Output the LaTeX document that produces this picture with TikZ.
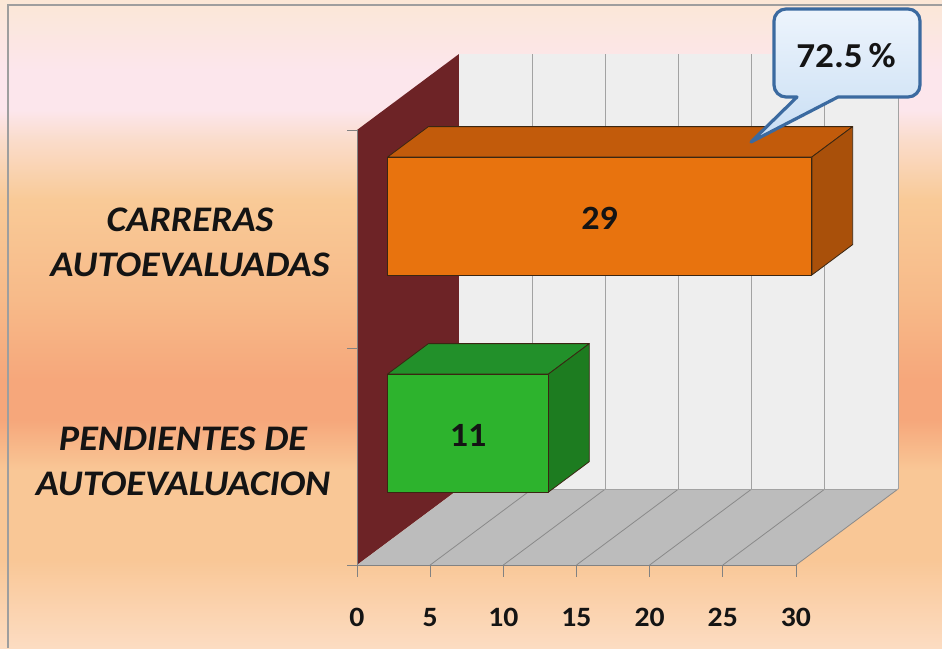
\documentclass[tikz,border=0pt]{standalone}
\usepackage{fontspec}
\setmainfont{Carlito}
\newfontfamily\chartfont[FakeStretch=1.06]{Carlito}
\usetikzlibrary{positioning}

\definecolor{bgtop}{HTML}{FBE7D6}
\definecolor{bgpink}{HTML}{FCE6EC}
\definecolor{bgrose}{HTML}{FADCCB}
\definecolor{bgorange}{HTML}{F9CA97}
\definecolor{bgdeep}{HTML}{F7BA89}
\definecolor{bgsalmon}{HTML}{F6A77B}
\definecolor{bgpeach}{HTML}{F9C796}
\definecolor{bgbot}{HTML}{FCDCC2}
\definecolor{framegray}{HTML}{9E9E9E}
\definecolor{wallmaroon}{HTML}{6D2326}
\definecolor{backwall}{HTML}{EEEEEE}
\definecolor{floorgray}{HTML}{BCBCBC}
\definecolor{gridgray}{HTML}{A2A2A2}
\definecolor{orF}{HTML}{E8730E}
\definecolor{orT}{HTML}{C25B0B}
\definecolor{orS}{HTML}{A9500A}
\definecolor{grF}{HTML}{2DB32D}
\definecolor{grT}{HTML}{22902A}
\definecolor{grS}{HTML}{1D7C20}
\definecolor{baredge}{HTML}{3A2612}
\definecolor{callblue}{HTML}{3B6AA0}
\definecolor{calltop}{HTML}{EDF4FC}
\definecolor{callbot}{HTML}{C8DEF4}

\pgfdeclareverticalshading{bgshade}{100bp}{color(0bp)=(bgbot); color(25bp)=(bgbot);
  color(31.8bp)=(bgpeach); color(38.7bp)=(bgpeach); color(42.6bp)=(bgsalmon);
  color(45.7bp)=(bgsalmon); color(51.9bp)=(bgdeep); color(59.6bp)=(bgorange);
  color(64.2bp)=(bgrose); color(66.5bp)=(bgpink); color(69.6bp)=(bgpink);
  color(75bp)=(bgtop); color(100bp)=(bgtop)}

\begin{document}
\begin{tikzpicture}[x=1pt, y=-1pt,
  every node/.style={inner sep=0pt, text=black!92},
  catlabel/.style={font=\chartfont\fontsize{36}{45}\selectfont\bfseries\itshape, align=center},
  ticklabel/.style={font=\chartfont\fontsize{28}{28}\selectfont\bfseries, anchor=base},
  vallabel/.style={font=\chartfont\fontsize{34}{34}\selectfont\bfseries},
  barline/.style={draw=baredge, line width=0.8pt, line join=round},
  gridline/.style={draw=gridgray, line width=0.8pt},
  axisline/.style={draw=gridgray!80!black, line width=0.8pt},
  callbox/.style={draw=callblue, line width=3.2pt, line join=round, top color=calltop, bottom color=callbot}]

\useasboundingbox (0,0) rectangle (942,648);
\shade[shading=bgshade] (0,0) rectangle (942,648);
\draw[framegray, line width=1.5pt] (8,648) -- (8,5) -- (942,5);

% walls and floor
\fill[wallmaroon] (357,565) -- (357,130) -- (459,54) -- (459,489) -- cycle;
\fill[backwall] (459,54) rectangle (898,489);
\fill[floorgray] (357,565) -- (796,565) -- (898,489) -- (459,489) -- cycle;
\foreach \k in {1,...,6} {
  \draw[gridline] ({459+73.17*\k},54) -- ({459+73.17*\k},489);
  \draw[gridline, draw=gridgray!85!black] ({357+73.17*\k},565) -- ++(102,-76);
}
\draw[gridline] (459,489) -- (898,489);

% axes
\draw[axisline] (357,130) -- (357,565) -- (796,565);
\foreach \y in {130,348,565}
  \draw[axisline] (347,\y) -- (357,\y);
\foreach \v in {0,5,...,30} {
  \draw[axisline] ({357+14.63*\v},565) -- ++(0,12);
  \node[ticklabel] (t\v) at ({357+14.63*\v},626) {\v};
}

% bars
\foreach \val/\ytop/\cf/\ct/\cs in {29/157/orF/orT/orS, 11/374/grF/grT/grS} {
  \pgfmathsetmacro{\len}{14.63*\val}
  \filldraw[barline, fill=\ct] (387.6,\ytop) -- ++(40.8,-30.4) -- ++(\len,0) -- ++(-40.8,30.4) -- cycle;
  \filldraw[barline, fill=\cs] ({387.6+\len},\ytop) -- ++(40.8,-30.4) -- ++(0,118) -- ++(-40.8,30.4) -- cycle;
  \filldraw[barline, fill=\cf] (387.6,\ytop) rectangle ++(\len,118);
  \node[vallabel] (v\val) at ({387.6+\len/2},{\ytop+61}) {\val};
}

% category labels
\node[catlabel] (carr) at (190,242) {CARRERAS\\AUTOEVALUADAS};
\node[catlabel] (pend) at (183,461) {PENDIENTES DE\\AUTOEVALUACION};

% callout
\coordinate (tip) at (751,142);
\draw[callbox] (tip) -- (797,97) [rounded corners=12pt] -- (774,97) -- (774,9)
  -- (920,9) -- (920,97) [sharp corners] -- (838,97) -- cycle;
\node[font=\chartfont\fontsize{35}{35}\selectfont\bfseries] (pct) at (846,56) {72.5\,\%};
\end{tikzpicture}
\end{document}
